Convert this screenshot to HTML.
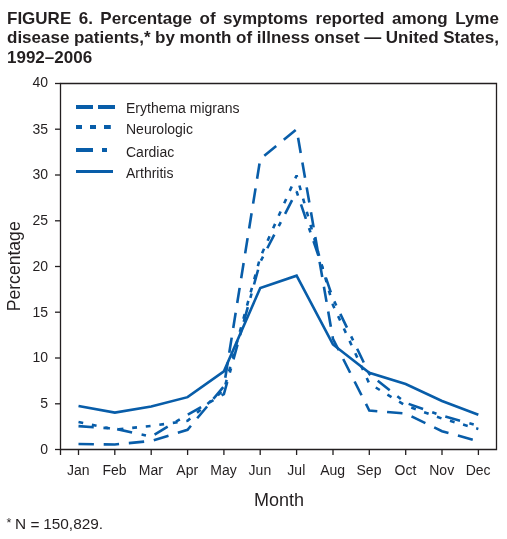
<!DOCTYPE html>
<html><head><meta charset="utf-8"><style>
html,body{margin:0;padding:0;background:#fff;width:507px;height:539px;overflow:hidden;position:relative}
.t,.t3,svg{will-change:transform}
.t{position:absolute;left:6.5px;width:492px;display:flex;justify-content:space-between;font-family:"Liberation Sans",sans-serif;font-weight:bold;font-size:17px;line-height:20px;color:#231f20;white-space:nowrap}
.t3{position:absolute;left:6.5px;font-family:"Liberation Sans",sans-serif;font-weight:bold;font-size:17px;line-height:20px;color:#231f20;white-space:nowrap}
</style></head><body>
<div class="t" style="top:8.5px"><span>FIGURE</span><span>6.</span><span>Percentage</span><span>of</span><span>symptoms</span><span>reported</span><span>among</span><span>Lyme</span></div>
<div class="t" style="top:27.6px"><span>disease</span><span>patients,*</span><span>by</span><span>month</span><span>of</span><span>illness</span><span>onset</span><span>—</span><span>United</span><span>States,</span></div>
<div class="t3" style="top:48.1px">1992–2006</div>
<svg width="507" height="539" style="position:absolute;left:0;top:0"><g stroke="#231f20" stroke-width="1.3" fill="none"><path d="M60.5,83.5 H496.5 V449.5 H60.5 Z"/><path d="M55,449.5 H60.5"/><path d="M55,403.8 H60.5"/><path d="M55,358.0 H60.5"/><path d="M55,312.2 H60.5"/><path d="M55,266.5 H60.5"/><path d="M55,220.8 H60.5"/><path d="M55,175.0 H60.5"/><path d="M55,129.2 H60.5"/><path d="M55,83.5 H60.5"/><path d="M78.5,449.5 V455"/><path d="M114.8,449.5 V455"/><path d="M151.2,449.5 V455"/><path d="M187.6,449.5 V455"/><path d="M223.9,449.5 V455"/><path d="M260.2,449.5 V455"/><path d="M296.6,449.5 V455"/><path d="M333.0,449.5 V455"/><path d="M369.3,449.5 V455"/><path d="M405.7,449.5 V455"/><path d="M442.0,449.5 V455"/><path d="M478.4,449.5 V455"/><path d="M60.5,449.5 V455"/></g><g font-family="Liberation Sans" font-size="14" fill="#231f20" text-anchor="end"><text x="48" y="453.9">0</text><text x="48" y="408.1">5</text><text x="48" y="362.4">10</text><text x="48" y="316.6">15</text><text x="48" y="270.9">20</text><text x="48" y="225.2">25</text><text x="48" y="179.4">30</text><text x="48" y="133.7">35</text><text x="48" y="87.1">40</text></g><g font-family="Liberation Sans" font-size="14" fill="#231f20" text-anchor="middle"><text x="78.2" y="475">Jan</text><text x="114.5" y="475">Feb</text><text x="150.9" y="475">Mar</text><text x="187.2" y="475">Apr</text><text x="223.6" y="475">May</text><text x="259.9" y="475">Jun</text><text x="296.3" y="475">Jul</text><text x="332.7" y="475">Aug</text><text x="369.0" y="475">Sep</text><text x="405.4" y="475">Oct</text><text x="441.7" y="475">Nov</text><text x="478.1" y="475">Dec</text></g><text x="279" y="505.7" font-family="Liberation Sans" font-size="18" fill="#231f20" text-anchor="middle">Month</text><text transform="translate(19.8,266.3) rotate(-90)" font-family="Liberation Sans" font-size="17.6" fill="#231f20" text-anchor="middle">Percentage</text><g font-family="Liberation Sans" font-size="15.4" fill="#231f20"><text x="6.6" y="527" font-size="12.5">*</text><text x="14.9" y="529.2">N</text><text x="30.4" y="529.6">=</text><text x="43.2" y="529.2">150,829.</text></g><g stroke-width="2.6" fill="none" stroke-linejoin="miter" stroke-miterlimit="2"><polyline stroke="#085da9" points="78.50,406.04 114.85,412.63 151.20,406.50 187.55,397.16 223.90,371.36 260.25,288.00 296.60,275.65 332.95,344.46 369.30,372.82 405.65,384.08 442.00,401.00 478.35,414.73"/><polyline stroke="#085da9" points="78.50,444.01 114.85,444.47 151.20,440.99 187.55,429.83 223.90,386.37 260.25,158.99 296.60,129.25 332.95,338.78 369.30,410.52 405.65,413.54 442.00,431.20 478.35,441.26" stroke-dasharray="15.4 9.79" stroke-dashoffset="0"/><polyline stroke="#085da9" points="78.50,422.05 114.85,429.55 151.20,425.98 187.55,420.77 223.90,390.02 260.25,257.35 296.60,175.46 332.95,304.93 369.30,383.62 405.65,405.58 442.00,418.57 478.35,428.91" stroke-dasharray="4.8 8.84" stroke-dashoffset="0"/><polyline stroke="#085da9" points="78.50,426.17 114.85,428.64 151.20,436.60 187.55,414.73 223.90,394.14 260.25,261.92 296.60,191.47 332.95,298.52 369.30,374.01 405.65,402.83 442.00,415.64 478.35,425.71" stroke-dasharray="15.3 9.7 4.5 9.29" stroke-dashoffset="0"/></g><g stroke="#085da9" stroke-width="3.8" fill="none"><path d="M76,107 H93 M98,107 H115"/><path d="M76,127 H82 M90,127 H96 M104,127 H110.8"/><path d="M76,150 H93 M102,150 H107"/><path d="M76,171.5 H113" stroke-width="3.2"/></g><g font-family="Liberation Sans" font-size="14" fill="#231f20"><text x="126" y="112.7">Erythema migrans</text><text x="126" y="134">Neurologic</text><text x="126" y="157">Cardiac</text><text x="126" y="177.5">Arthritis</text></g></svg>
</body></html>
